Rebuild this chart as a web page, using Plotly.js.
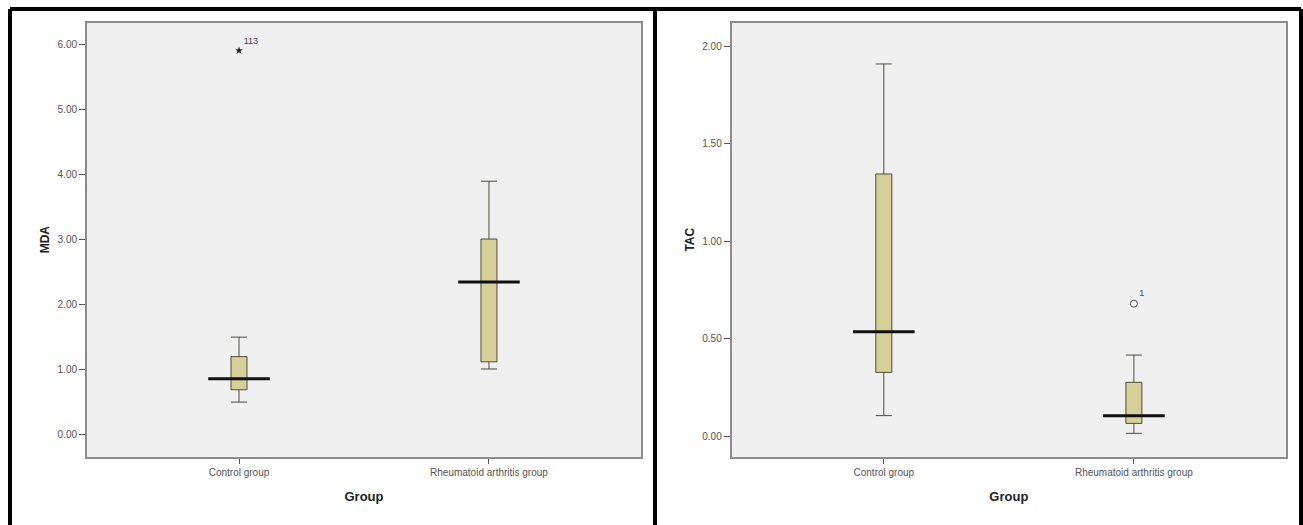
<!DOCTYPE html>
<html>
<head>
<meta charset="utf-8">
<script src="https://cdn.plot.ly/plotly-3.0.1.min.js"></script>
<style>
html,body{margin:0;padding:0;background:#fff;}
#chart{width:1303px;height:525px;}
</style>
</head>
<body>
<div id="chart"></div>
<script>
// ---- Data ----
const categories = ['Control group', 'Rheumatoid arthritis group'];

// MDA box statistics
const mdaLower  = [0.50, 1.01];
const mdaQ1     = [0.69, 1.12];
const mdaMedian = [0.86, 2.35];
const mdaQ3     = [1.20, 3.01];
const mdaUpper  = [1.50, 3.90];
const mdaOutlierGroup = ['Control group'];
const mdaOutlierValue = [5.91];
const mdaOutlierLabel = ['113'];

// TAC box statistics
const tacLower  = [0.105, 0.014];
const tacQ1     = [0.327, 0.065];
const tacMedian = [0.536, 0.104];
const tacQ3     = [1.346, 0.276];
const tacUpper  = [1.911, 0.416];
const tacOutlierGroup = ['Rheumatoid arthritis group'];
const tacOutlierValue = [0.68];
const tacOutlierLabel = ['1'];

// ---- Styles ----
const FONT = 'Liberation Sans, Arial, sans-serif';
const boxFill = '#d5cf98';
const boxLine = '#4d4b3e';

function boxTrace(lower, q1, med, q3, upper, xa, ya) {
  return {
    type: 'box', x: categories, lowerfence: lower, q1: q1, median: med,
    q3: q3, upperfence: upper, xaxis: xa, yaxis: ya,
    width: 0.064, whiskerwidth: 1,
    fillcolor: boxFill, line: {color: boxLine, width: 1},
    boxpoints: false, hoverinfo: 'skip', showlegend: false
  };
}
function medianTrace(med, xa, ya) {
  return {
    type: 'scatter', mode: 'markers', x: categories, y: med, xaxis: xa, yaxis: ya,
    marker: {symbol: 'line-ew', size: 44, color: '#111', line: {color: '#111', width: 3}},
    hoverinfo: 'skip', showlegend: false
  };
}

const traces = [
  boxTrace(mdaLower, mdaQ1, mdaMedian, mdaQ3, mdaUpper, 'x', 'y'),
  medianTrace(mdaMedian, 'x', 'y'),
  {
    type: 'scatter', mode: 'markers+text', x: mdaOutlierGroup, y: mdaOutlierValue,
    text: mdaOutlierLabel, textposition: 'top right',
    textfont: {family: FONT, size: 9, color: '#444'},
    marker: {symbol: 'star', size: 6, color: '#222'},
    xaxis: 'x', yaxis: 'y', hoverinfo: 'skip', showlegend: false
  },
  boxTrace(tacLower, tacQ1, tacMedian, tacQ3, tacUpper, 'x2', 'y2'),
  medianTrace(tacMedian, 'x2', 'y2'),
  {
    type: 'scatter', mode: 'markers+text', x: tacOutlierGroup, y: tacOutlierValue,
    text: tacOutlierLabel, textposition: 'top right',
    textfont: {family: FONT, size: 9, color: '#444'},
    marker: {symbol: 'circle-open', size: 7, color: '#555', line: {width: 1}},
    xaxis: 'x2', yaxis: 'y2', hoverinfo: 'skip', showlegend: false
  }
];

function xAxis(domain, anchor) {
  return {
    domain: domain, anchor: anchor, type: 'category', range: [-0.608, 1.608],
    showline: true, mirror: true, linecolor: '#8c8c8c', linewidth: 2,
    ticks: 'outside', ticklen: 5, tickcolor: '#555', tickwidth: 1,
    showgrid: false, zeroline: false,
    tickfont: {family: FONT, size: 10, color: '#555'},
    title: {text: 'Group', font: {family: FONT, size: 13, color: '#222', weight: 'bold'}, standoff: 15}
  };
}
function yAxis(domain, anchor, range, dtick, title) {
  return {
    domain: domain, anchor: anchor, range: range, dtick: dtick, tick0: 0,
    tickformat: '.2f',
    showline: true, mirror: true, linecolor: '#8c8c8c', linewidth: 2,
    ticks: 'outside', ticklen: 6, tickcolor: '#555', tickwidth: 1,
    showgrid: false, zeroline: false,
    tickfont: {family: FONT, size: 10, color: '#555'},
    title: {text: title, font: {family: FONT, size: 12, color: '#222', weight: 'bold'}, standoff: 5}
  };
}

const yDom = [0.1301, 0.9568];
const frame = {type: 'line', xref: 'paper', yref: 'paper', line: {color: '#000', width: 4}};
const layout = {
  width: 1303, height: 525,
  margin: {l: 0, r: 0, t: 0, b: 0},
  paper_bgcolor: '#fff', plot_bgcolor: '#f0f0f0',
  showlegend: false,
  xaxis: xAxis([0.0668, 0.4919], 'y'),
  yaxis: yAxis(yDom, 'x', [-0.34, 6.34], 1, 'MDA'),
  xaxis2: xAxis([0.5616, 0.9869], 'y2'),
  yaxis2: yAxis(yDom, 'x2', [-0.106, 2.123], 0.5, 'TAC'),
  shapes: [
    Object.assign({}, frame, {x0: 0.0077, x1: 0.9985, y0: 1 - 9/525, y1: 1 - 9/525}),
    Object.assign({}, frame, {x0: 10/1303, x1: 10/1303, y0: 0, y1: 1 - 9/525}),
    Object.assign({}, frame, {x0: 655/1303, x1: 655/1303, y0: 0, y1: 1 - 9/525}),
    Object.assign({}, frame, {x0: 1301/1303, x1: 1301/1303, y0: 0, y1: 1 - 9/525})
  ]
};

Plotly.newPlot('chart', traces, layout, {displayModeBar: false, staticPlot: true});
</script>
</body>
</html>
